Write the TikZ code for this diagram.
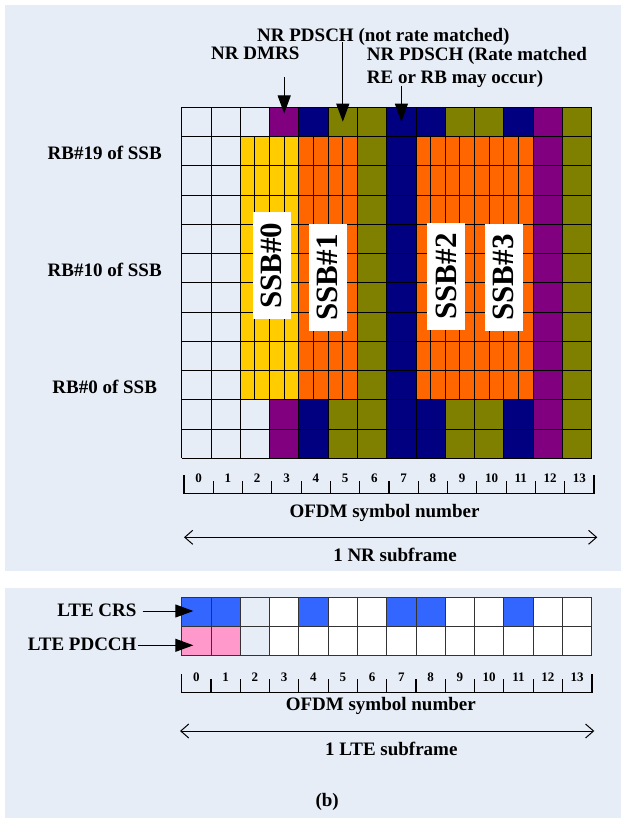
\documentclass[tikz,border=0pt]{standalone}
\usepackage{fontspec}
\setmainfont{Liberation Serif}
\usetikzlibrary{arrows.meta}
\definecolor{bgc}{HTML}{E6EDF7}
\definecolor{yel}{HTML}{FFCC00}
\definecolor{org}{HTML}{FF6600}
\definecolor{pur}{HTML}{800080}
\definecolor{nav}{HTML}{000080}
\definecolor{olv}{HTML}{808000}
\definecolor{blu}{HTML}{3366FF}
\definecolor{pnk}{HTML}{FF99CC}
\tikzset{
  lbl/.style={font=\fontsize{19}{23}\selectfont\bfseries, inner sep=0pt},
  num/.style={font=\fontsize{13}{15}\selectfont\bfseries, inner sep=0pt, anchor=base},
  ssbbox/.style={fill=white, rotate=90, font=\fontsize{31}{31}\selectfont\bfseries,
    minimum width=107pt, minimum height=38pt, inner sep=0pt},
  gl/.style={draw=black, line width=0.9pt},
  gl2/.style={draw=black!80, line width=0.9pt},
  axl/.style={line width=1.3pt},
  tk/.style={line width=1.1pt},
  ptr/.style={line width=1pt, -{Triangle[length=18pt,width=13pt]}},
  spanarr/.style={line width=1pt, {Straight Barb[length=8pt,width=14pt,line width=1pt]}-{Straight Barb[length=8pt,width=14pt,line width=1pt]}},
}
\begin{document}
\begin{tikzpicture}[x=1pt,y=-1pt]
\useasboundingbox (0,0) rectangle (621,818);
\fill[white] (0,0) rectangle (621,818);
% panels
\fill[bgc] (5,5) rectangle (621,570.7);
\fill[bgc] (5,587.7) rectangle (621,818);

% ---------- NR grid ----------
\foreach \c/\ea/\mi in {0/bgc/bgc,1/bgc/bgc,2/bgc/yel,3/pur/yel,4/nav/org,5/olv/org,6/olv/olv,7/nav/nav,8/nav/org,9/olv/org,10/olv/org,11/nav/org,12/pur/pur,13/olv/olv}{
  \fill[\ea] (181.7+29.2857*\c,107.3) rectangle ++(29.2857,29.25);
  \fill[\mi] (181.7+29.2857*\c,136.55) rectangle ++(29.2857,263.25);
  \fill[\ea] (181.7+29.2857*\c,399.8) rectangle ++(29.2857,58.5);
}
\foreach \r in {0,...,12} \draw[gl] (181.7,107.3+29.25*\r) -- ++(410,0);
\foreach \c in {0,...,14} \draw[gl] (181.7+29.2857*\c,107.3) -- ++(0,351);
\foreach \c in {2,3,4,5,8,9,10,11} \draw[gl] (181.7+29.2857*\c+14.643,136.55) -- ++(0,263.25);

% SSB labels
\node[ssbbox] (ssb0) at (271.5,265.7) {SSB\#0};
\node[ssbbox] (ssb1) at (327.5,277.5) {SSB\#1};
\node[ssbbox] (ssb2) at (446.3,276.5) {SSB\#2};
\node[ssbbox] (ssb3) at (503.5,277.5) {SSB\#3};

% top labels
\node[lbl, anchor=base] (nrm) at (383.3,42) {NR PDSCH (not rate matched)};
\node[lbl, anchor=base] (dmrs) at (255.3,60) {NR DMRS};
\node[lbl, anchor=base west] (rm1) at (366.7,61) {NR PDSCH (Rate matched};
\node[lbl, anchor=base west] (rm2) at (366.7,84) {RE or RB may occur)};

\coordinate (dmrsA) at (284.2,77);
\coordinate (dmrsB) at (284.2,113.5);
\coordinate (nrmA) at (342.8,42);
\coordinate (nrmB) at (342.8,121.7);
\coordinate (rmA) at (401.4,86);
\coordinate (rmB) at (401.4,121.7);
\draw[ptr] (dmrsA) -- (dmrsB);
\draw[ptr] (nrmA) -- (nrmB);
\draw[ptr] (rmA) -- (rmB);

% left labels
\node[lbl, anchor=base] (rb19) at (104.7,160) {RB\#19 of SSB};
\node[lbl, anchor=base] (rb10) at (104.7,276.7) {RB\#10 of SSB};
\node[lbl, anchor=base] (rb0) at (104.7,393.3) {RB\#0 of SSB};

% NR axis
\draw[axl] (184,493.3) -- (594,493.3);
\foreach \i in {1,...,13} \draw[tk] (184+29.2857*\i,493.3) -- ++(0,-12);
\draw[tk] (184,494) -- ++(0,-19);
\draw[line width=1.8pt] (594,494) -- ++(0,-19);
\foreach \i in {0,...,13} \node[num] (nrn\i) at (184+29.2857*\i+14.64,482.7) {\i};
\node[lbl, anchor=base] (nrofdm) at (384.5,517) {OFDM symbol number};
\coordinate (nrL) at (184,537.3);
\coordinate (nrR) at (597.3,537.3);
\draw[spanarr] (nrL) -- (nrR);
\node[lbl, anchor=base] (nrsf) at (395,561.7) {1 NR subframe};

% ---------- LTE grid ----------
\foreach \c/\ta/\tb in {0/blu/pnk,1/blu/pnk,2/bgc/bgc,3/white/white,4/blu/white,5/white/white,6/white/white,7/blu/white,8/blu/white,9/white/white,10/white/white,11/blu/white,12/white/white,13/white/white}{
  \fill[\ta] (181.7+29.2857*\c,597.3) rectangle ++(29.2857,29.2);
  \fill[\tb] (181.7+29.2857*\c,626.5) rectangle ++(29.2857,29.2);
}
\foreach \r in {0,1,2} \draw[gl2] (181.7,597.3+29.2*\r) -- ++(410,0);
\foreach \c in {0,...,14} \draw[gl2] (181.7+29.2857*\c,597.3) -- ++(0,58.4);

\node[lbl, anchor=base east] (crs) at (136.7,616.7) {LTE CRS};
\node[lbl, anchor=base east] (pdcch) at (136.7,650.3) {LTE PDCCH};
\coordinate (crsA) at (142.7,611);
\coordinate (crsB) at (193.3,611);
\coordinate (pdA) at (138.3,645.3);
\coordinate (pdB) at (193.3,645.3);
\draw[ptr] (crsA) -- (crsB);
\draw[ptr] (pdA) -- (pdB);

% LTE axis
\draw[axl] (181.7,692.3) -- (591.7,692.3);
\foreach \i in {1,...,13} \draw[tk] (181.7+29.2857*\i,692.3) -- ++(0,-13);
\draw[tk] (181.7,693) -- ++(0,-19);
\draw[line width=1.8pt] (591.7,693) -- ++(0,-19);
\foreach \i in {0,...,13} \node[num] (lten\i) at (181.7+29.2857*\i+14.64,681.7) {\i};
\node[lbl, anchor=base] (lteofdm) at (380.8,710) {OFDM symbol number};
\coordinate (lteL) at (180,731);
\coordinate (lteR) at (594.3,731);
\draw[spanarr] (lteL) -- (lteR);
\node[lbl, anchor=base] (ltesf) at (391.3,755) {1 LTE subframe};
\node[lbl, anchor=base] (capb) at (327.2,806.5) {(b)};
\end{tikzpicture}
\end{document}
